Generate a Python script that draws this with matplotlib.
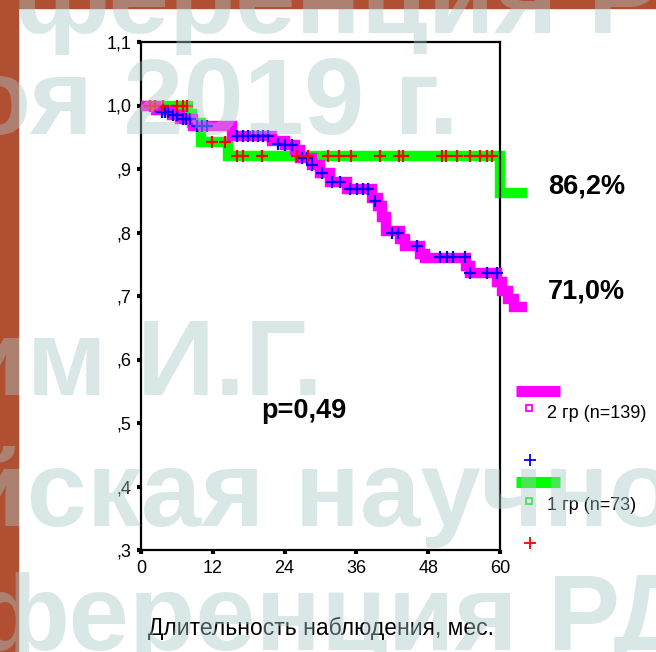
import matplotlib.pyplot as plt
from matplotlib.lines import Line2D
from matplotlib.patches import Rectangle

plt.rcParams['font.family'] = ['Liberation Sans', 'DejaVu Sans']

# group 2 (n=139) survival curve, months / proportion
g2_t = [0, 2.5, 5.2, 6.5, 8.7, 15.2, 21.9, 24.0, 25.8, 26.6, 28.6, 29.9, 31.6, 34.4,
        38.6, 39.6, 40.3, 41.0, 43.3, 44.1, 46.7, 47.5, 54.3, 55.0, 59.5, 60.4, 61.4, 62.4, 64.5]
g2_s = [1.0, 0.993, 0.985, 0.978, 0.968, 0.952, 0.944, 0.938, 0.930, 0.918, 0.907, 0.894, 0.880, 0.868,
        0.855, 0.842, 0.825, 0.803, 0.790, 0.779, 0.766, 0.760, 0.748, 0.737, 0.722, 0.708, 0.695, 0.683, 0.683]
g2_cens_t = [3.5, 4.0, 4.5, 5.3, 6.0, 7.0, 7.6, 8.2, 9.3, 10.2, 11.0, 16.0, 17.0, 17.8, 18.7,
             19.6, 20.4, 21.3, 22.9, 24.1, 25.2, 26.9, 27.8, 28.6, 30.3, 32.0, 33.3, 35.0, 36.1,
             37.1, 38.0, 39.1, 41.9, 43.0, 46.2, 50.0, 51.2, 52.2, 54.2, 55.0, 57.9, 59.5]
g2_cens_s = [0.990, 0.990, 0.990, 0.985, 0.985, 0.978, 0.978, 0.978, 0.968, 0.968, 0.968, 0.952, 0.952, 0.952, 0.952,
             0.952, 0.952, 0.952, 0.940, 0.938, 0.938, 0.918, 0.918, 0.907, 0.894, 0.880, 0.880, 0.868, 0.868,
             0.868, 0.868, 0.849, 0.800, 0.800, 0.779, 0.762, 0.762, 0.762, 0.762, 0.737, 0.737, 0.737]

# group 1 (n=73)
g1_t = [0, 7.8, 8.6, 10.0, 14.6, 60.0, 64.5]
g1_s = [1.0, 0.986, 0.972, 0.943, 0.921, 0.862, 0.862]
g1_cens_t = [1.5, 2.4, 3.7, 6.0, 7.0, 7.7, 11.9, 14.0, 16.1, 17.1, 20.2, 26.1, 27.9, 31.3, 33.1,
             35.1, 40.0, 43.1, 43.8, 50.3, 51.0, 52.8, 55.0, 56.7, 57.9, 58.7]
g1_cens_s = [1.0, 1.0, 1.0, 1.0, 1.0, 1.0, 0.943, 0.943, 0.921, 0.921, 0.921, 0.921, 0.921, 0.921, 0.921,
             0.921, 0.921, 0.921, 0.921, 0.921, 0.921, 0.921, 0.921, 0.921, 0.921, 0.921]

x_ticks = [0, 12, 24, 36, 48, 60]
y_ticks = [0.3, 0.4, 0.5, 0.6, 0.7, 0.8, 0.9, 1.0, 1.1]
y_labels = [',3', ',4', ',5', ',6', ',7', ',8', ',9', '1,0', '1,1']

pink = '#ff00ff'
green = '#00ff00'

fig = plt.figure(figsize=(6.56, 6.52), dpi=100)
fig.patch.set_facecolor('white')

# slide background strips
fig.patches.append(Rectangle((0, 0), 18 / 656, 1, transform=fig.transFigure, color='#b14f33', zorder=0))
fig.patches.append(Rectangle((0, 1 - 8 / 652), 1, 8 / 652, transform=fig.transFigure, color='#b14f33', zorder=0))

ax = fig.add_axes([141 / 656, 1 - 550 / 652, 359 / 656, 508 / 652])
ax.set_facecolor('white')

ax.step(g1_t, g1_s, where='post', color=green, lw=7.5, clip_on=False, zorder=2,
        solid_joinstyle='miter', solid_capstyle='butt')
ax.step(g2_t, g2_s, where='post', color=pink, lw=7.5, clip_on=False, zorder=3,
        solid_joinstyle='miter', solid_capstyle='butt')
ax.plot(g2_cens_t, g2_cens_s, ls='none', marker='+', ms=8, mew=1.6, color='#0000ff', clip_on=False, zorder=4)
ax.plot(g1_cens_t, g1_cens_s, ls='none', marker='+', ms=8, mew=1.6, color='#ff0000', clip_on=False, zorder=5)

ax.set_xlim(0, 60)
ax.set_ylim(0.3, 1.1)
ax.set_xticks(x_ticks)
ax.set_yticks(y_ticks)
ax.set_yticklabels(y_labels)
ax.tick_params(direction='out', length=3, width=3, labelsize=13, pad=4, color='black')
for s in ax.spines.values():
    s.set_linewidth(1.6)
ax.set_xlabel('Длительность наблюдения, мес.', fontsize=16.5, labelpad=29)

ax.text(27.3, 0.519, 'p=0,49', fontsize=19.5, fontweight='bold', ha='center', va='center')
ax.text(68.0, 0.872, '86,2%', fontsize=19.5, fontweight='bold', ha='left', va='center')
ax.text(68.0, 0.707, '71,0%', fontsize=19.5, fontweight='bold', ha='left', va='center')

# legend, drawn in figure pixels
def fx(px):
    return px / 656

def fy(py):
    return 1 - py / 652

fig.add_artist(Line2D([fx(516), fx(560)], [fy(391), fy(391)], color=pink, lw=8, solid_capstyle='butt'))
fig.add_artist(Line2D([fx(529)], [fy(408)], marker='s', ms=5, mfc='none', mec=pink, mew=1.3))
fig.text(fx(547), fy(413), '2 гр (n=139)', fontsize=13, va='center')
fig.add_artist(Line2D([fx(530)], [fy(460)], marker='+', ms=8, mew=1.3, color='#0000ff'))
fig.add_artist(Line2D([fx(516), fx(560)], [fy(482), fy(482)], color=green, lw=8, solid_capstyle='butt'))
fig.add_artist(Line2D([fx(529)], [fy(501)], marker='s', ms=5, mfc='none', mec=green, mew=1.3))
fig.text(fx(547), fy(506), '1 гр (n=73)', fontsize=13, va='center')
fig.add_artist(Line2D([fx(530)], [fy(543)], marker='+', ms=8, mew=1.3, color='#ff0000'))

# faint slide watermark over everything
wm = dict(fontsize=78, fontweight='bold', color='#a8c8c8', alpha=0.42, zorder=20, va='baseline')
fig.text(fx(15), fy(33), 'ференция Р', **wm)
fig.text(fx(-35), fy(134), 'оя 2019 г.', **wm)
fig.text(fx(-40), fy(395), 'им И.Г.', **wm)
fig.text(fx(-40), fy(526), 'йская научно', **wm)
fig.text(fx(-25), fy(650), 'ференция РД', **wm)

fig.savefig('out.png', dpi=100)
